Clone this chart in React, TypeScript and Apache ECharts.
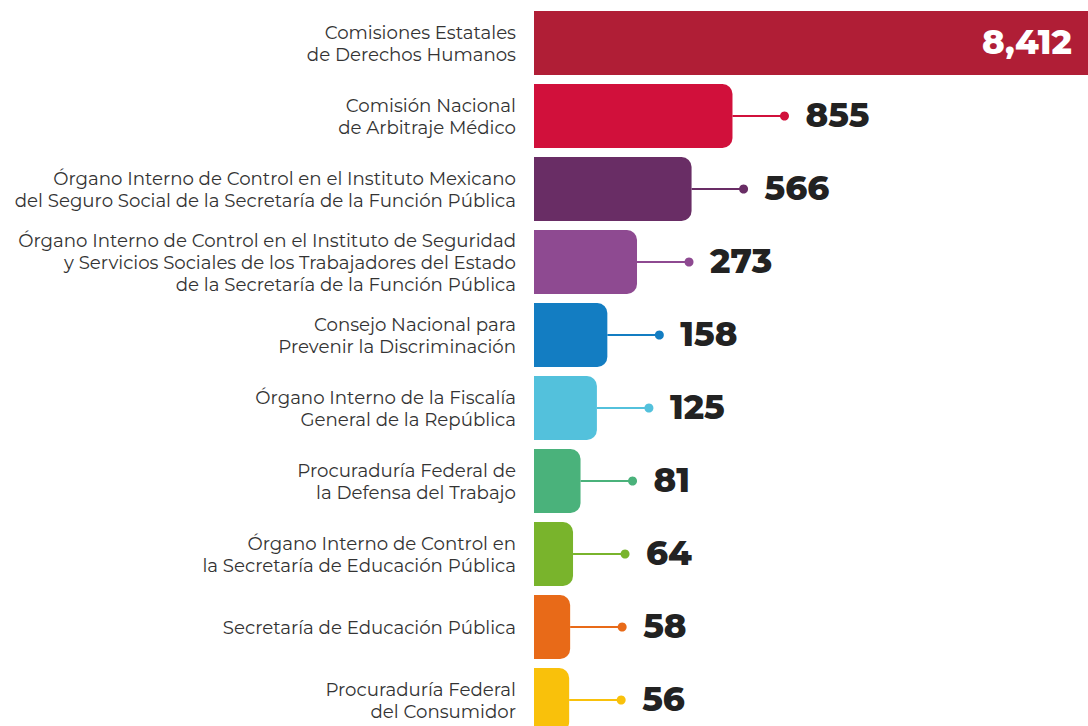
import React, { useEffect, useRef } from "react";
import * as echarts from "echarts";

const categories = [
  "Comisiones Estatales\nde Derechos Humanos",
  "Comisión Nacional\nde Arbitraje Médico",
  "Órgano Interno de Control en el Instituto Mexicano\ndel Seguro Social de la Secretaría de la Función Pública",
  "Órgano Interno de Control en el Instituto de Seguridad\ny Servicios Sociales de los Trabajadores del Estado\nde la Secretaría de la Función Pública",
  "Consejo Nacional para\nPrevenir la Discriminación",
  "Órgano Interno de la Fiscalía\nGeneral de la República",
  "Procuraduría Federal de\nla Defensa del Trabajo",
  "Órgano Interno de Control en\nla Secretaría de Educación Pública",
  "Secretaría de Educación Pública",
  "Procuraduría Federal\ndel Consumidor",
];

const values = [8412, 855, 566, 273, 158, 125, 81, 64, 58, 56];

const colors = [
  "#B01E36",
  "#D1103B",
  "#692D65",
  "#8E4A91",
  "#137DC2",
  "#53C1DC",
  "#4AB27B",
  "#79B42C",
  "#E86A18",
  "#F9C10B",
];

const LABEL_FONT = "Montserrat, Inter, 'Open Sans', sans-serif";

export default function App() {
  const ref = useRef<HTMLDivElement>(null);

  useEffect(() => {
    document.body.style.margin = "0";
    if (!ref.current) return;
    const chart = echarts.init(ref.current, null, { renderer: "svg" });

    // square-root scale for bar length (display encoding)
    const scaled = values.map((v) => Math.sqrt(v));
    const X_MIN = 2.8;
    const X_MAX = 76.6;

    const numStyle = {
      fontFamily: LABEL_FONT,
      fontSize: 34,
      fontWeight: 800,
      verticalAlign: "middle",
    };

    const option: any = {
      animation: false,
      backgroundColor: "#ffffff",
      grid: {
        left: 534,
        width: 554,
        top: 6.5,
        height: 730,
        containLabel: false,
        outerBoundsMode: "none",
      },
      xAxis: {
        type: "value",
        min: X_MIN,
        max: X_MAX,
        show: false,
      },
      yAxis: {
        type: "category",
        data: categories,
        inverse: true,
        axisLine: { show: false },
        axisTick: { show: false },
        splitLine: { show: false },
        axisLabel: {
          align: "right",
          margin: 18,
          fontFamily: LABEL_FONT,
          fontSize: 18.2,
          lineHeight: 22,
          color: "#333333",
        },
      },
      series: [
        {
          type: "bar",
          barWidth: 64,
          clip: true,
          z: 2,
          data: scaled.map((v, i) => ({
            value: v,
            itemStyle: {
              color: colors[i],
              borderRadius: i === 0 ? 0 : [0, 10, 10, 0],
            },
          })),
        },
        {
          type: "custom",
          clip: false,
          z: 10,
          data: scaled.map((v, i) => [v, i]),
          encode: { x: 0, y: 1 },
          renderItem: (params: any, api: any) => {
            const idx = api.value(1);
            const label = values[idx].toLocaleString("en-US");
            if (idx === 0) {
              const edge = api.coord([X_MAX, idx]);
              return {
                type: "text",
                x: edge[0] - 16,
                y: edge[1] - 1,
                z2: 100,
                style: { ...numStyle, text: label, fill: "#ffffff", align: "right" },
              };
            }
            const p = api.coord([api.value(0), idx]);
            const L = 52;
            const c = colors[idx];
            return {
              type: "group",
              children: [
                {
                  type: "line",
                  shape: { x1: p[0], y1: p[1], x2: p[0] + L, y2: p[1] },
                  style: { stroke: c, lineWidth: 2 },
                },
                {
                  type: "circle",
                  shape: { cx: p[0] + L, cy: p[1], r: 4.5 },
                  style: { fill: c },
                },
                {
                  type: "text",
                  x: p[0] + L + 21,
                  y: p[1] - 1,
                  style: { ...numStyle, text: label, fill: "#222222", align: "left" },
                },
              ],
            };
          },
        },
      ],
    };

    chart.setOption(option);
    return () => chart.dispose();
  }, []);

  return <div ref={ref} style={{ width: 1088, height: 726 }} />;
}
